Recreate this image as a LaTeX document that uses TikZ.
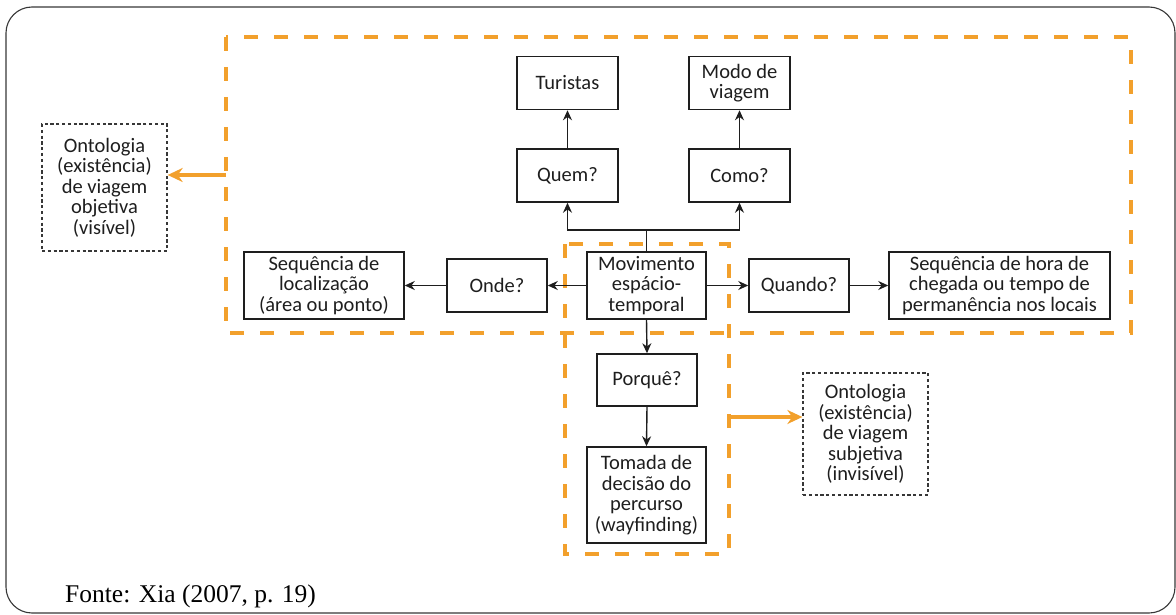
\documentclass[tikz,border=0pt]{standalone}
\usepackage{fontspec}
\setmainfont{Carlito}
\newfontfamily\captionfont{Liberation Serif}
\usetikzlibrary{arrows.meta}
\definecolor{frameorange}{RGB}{242,160,44}
\definecolor{framegray}{RGB}{55,55,55}
\definecolor{ink}{RGB}{30,30,30}
\tikzset{
  box/.style={draw=ink, line width=1.5pt, align=center, inner sep=0pt,
    font=\fontsize{20.5}{20.5}\selectfont, text=ink},
  ontobox/.style={draw=framegray, line width=1.3pt, dash pattern=on 3.2pt off 2.6pt,
    align=center, inner sep=0pt, font=\fontsize{20.5}{20.5}\selectfont, text=ink},
  link/.style={draw=ink, line width=1.4pt, -{Stealth[length=10pt,width=9pt]}},
  groupframe/.style={draw=frameorange, line width=3.8pt, dash pattern=on 14pt off 16pt},
  orangearrow/.style={draw=frameorange, line width=3.4pt, -{Stealth[length=15pt,width=14pt]}}
}
\begin{document}
\begin{tikzpicture}[x=1pt,y=-1pt]
\useasboundingbox (0,0) rectangle (1176,615);
% outer frame
\draw[framegray, line width=1.1pt, rounded corners=26pt] (6,7) rectangle (1175,613);

% dashed orange groups
\draw[groupframe] (226,37) rectangle (1131,333);
\draw[groupframe] (565,244) rectangle (729,554);

% boxes
\node[box, minimum width=101pt, minimum height=53pt] (tur)  at (567.5,83)  {Turistas};
\node[box, minimum width=101pt, minimum height=53pt] (modo) at (739.5,83)  {Modo de\\viagem};
\node[box, minimum width=101pt, minimum height=53pt] (quem) at (567.5,175.5) {Quem?};
\node[box, minimum width=101pt, minimum height=53pt] (como) at (739.5,175.5) {Como?};
\node[box, minimum width=119pt, minimum height=67pt, fill=white] (mov) at (646.5,285.5) {Movimento\\espácio-\\temporal};
\node[box, minimum width=100pt, minimum height=53pt] (onde) at (497,285.5) {Onde?};
\node[box, minimum width=160pt, minimum height=67pt] (seqloc) at (324,285.5) {Sequência de\\localização\\(área ou ponto)};
\node[box, minimum width=100pt, minimum height=53pt] (quando) at (799,285.5) {Quando?};
\node[box, minimum width=221pt, minimum height=67pt] (seqhora) at (999.5,285.5) {Sequência de hora de\\chegada ou tempo de\\permanência nos locais};
\node[box, minimum width=100pt, minimum height=52pt] (porq) at (647,380) {Porquê?};
\node[box, minimum width=119pt, minimum height=96pt] (toma) at (646.5,495) {Tomada de\\decisão do\\percurso\\(wayfinding)};

% ontology boxes
\node[ontobox, minimum width=125pt, minimum height=127pt] (obj) at (104.5,187.5) {Ontologia\\(existência)\\de viagem\\objetiva\\(visível)};
\node[ontobox, minimum width=125pt, minimum height=122pt] (subj) at (865.5,434) {Ontologia\\(existência)\\de viagem\\subjetiva\\(invisível)};

% connectors
\coordinate (split) at (646.5,230);
\draw[line width=1.4pt, ink] (mov.north) -- (split);
\draw[link] (split) -| (quem.south);
\draw[link] (split) -| (como.south);
\draw[link] (quem.north) -- (tur.south);
\draw[link] (como.north) -- (modo.south);
\draw[link] (mov.west) -- (onde.east);
\draw[link] (onde.west) -- (seqloc.east);
\draw[link] (mov.east) -- (quando.west);
\draw[link] (quando.east) -- (seqhora.west);
\draw[link] (mov.south) -- (porq.north);
\draw[link] (porq.south) -- (toma.north);

% orange pointers to the ontology boxes
\coordinate (objsrc) at (226,175);
\coordinate (subjsrc) at (729,417);
\draw[orangearrow] (objsrc) -- (objsrc -| obj.east);
\draw[orangearrow] (subjsrc) -- (subjsrc -| subj.west);

% source note
\node[anchor=base west, inner sep=0pt, font=\captionfont\fontsize{25.5}{28}\selectfont] (fonte) at (65,602) {Fonte: Xia (2007, p. 19)};
\end{tikzpicture}
\end{document}
